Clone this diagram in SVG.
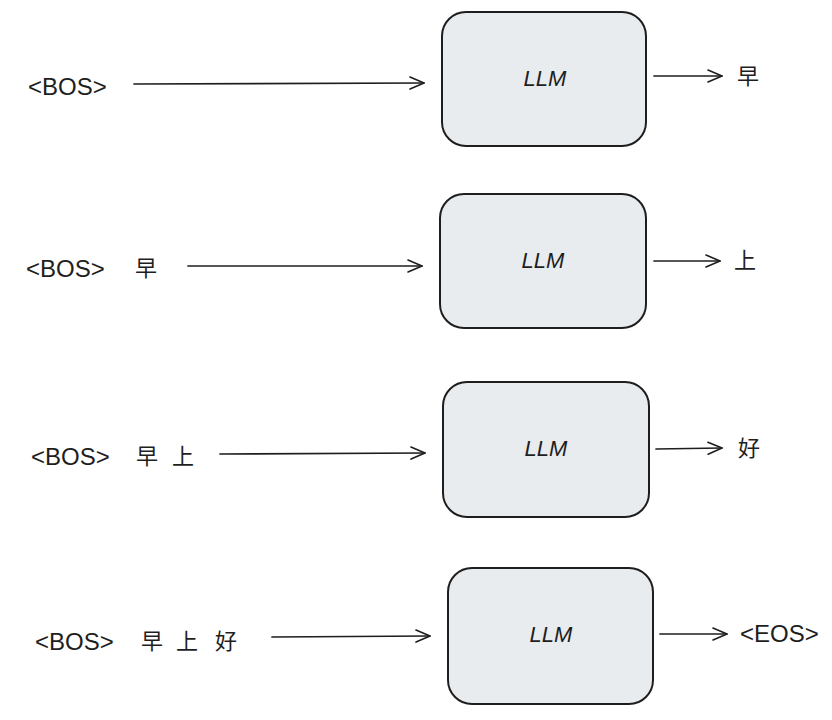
<svg xmlns="http://www.w3.org/2000/svg" width="832" height="720" viewBox="0 0 832 720">
  <defs>
    <marker id="arrow" viewBox="0 0 20 20" refX="18" refY="10" markerWidth="20" markerHeight="20" markerUnits="userSpaceOnUse" orient="auto">
      <path d="M4,4 L18,10 L4,16" fill="none" stroke="#1e1e1e" stroke-width="1.6" stroke-linecap="round" stroke-linejoin="round"/>
    </marker>
  </defs>
  <style>
    .box { fill: #e9ecef; stroke: #1e1e1e; stroke-width: 2; }
    .lbl { font-family: "Liberation Sans", "Noto Sans CJK SC", sans-serif; font-size: 24px; fill: #1e1e1e; }
    .cjk { font-family: "Noto Sans CJK SC", sans-serif; font-size: 22px; fill: #1e1e1e; }
    .llm { font-family: "Liberation Sans", sans-serif; font-size: 22px; font-style: italic; fill: #1e1e1e; text-anchor: middle; }
    .edge { stroke: #1e1e1e; stroke-width: 1.7; fill: none; stroke-linecap: round; marker-end: url(#arrow); }
  </style>
  <rect width="832" height="720" fill="#ffffff"/>

  <!-- step 1 -->
  <g id="llm1">
    <rect class="box" x="442" y="12" width="204" height="134" rx="24"/>
    <text class="llm" x="545" y="86">LLM</text>
  </g>
  <g id="in1"><text class="lbl" x="28" y="95">&lt;BOS&gt;</text></g>
  <g id="out1"><text class="cjk" x="737" y="84">早</text></g>

  <!-- step 2 -->
  <g id="llm2">
    <rect class="box" x="440" y="194" width="206" height="134" rx="24"/>
    <text class="llm" x="543" y="268">LLM</text>
  </g>
  <g id="in2"><text class="lbl" x="26" y="277">&lt;BOS&gt;<tspan class="cjk" x="135" y="276">早</tspan></text></g>
  <g id="out2"><text class="cjk" x="734" y="268">上</text></g>

  <!-- step 3 -->
  <g id="llm3">
    <rect class="box" x="443" y="382" width="206" height="135" rx="24"/>
    <text class="llm" x="546" y="456">LLM</text>
  </g>
  <g id="in3"><text class="lbl" x="31" y="465">&lt;BOS&gt;<tspan class="cjk" x="136" y="464">早</tspan><tspan class="cjk" x="172" y="464">上</tspan></text></g>
  <g id="out3"><text class="cjk" x="738" y="456">好</text></g>

  <!-- step 4 -->
  <g id="llm4">
    <rect class="box" x="448" y="568" width="205" height="136" rx="24"/>
    <text class="llm" x="551" y="642">LLM</text>
  </g>
  <g id="in4"><text class="lbl" x="35" y="650">&lt;BOS&gt;<tspan class="cjk" x="141" y="649">早</tspan><tspan class="cjk" x="176" y="649">上</tspan><tspan class="cjk" x="215" y="649">好</tspan></text></g>
  <g id="out4"><text class="lbl" x="740" y="642">&lt;EOS&gt;</text></g>

  <g id="connectors">
    <line class="edge" x1="134" y1="84" x2="424" y2="83"/>
    <line class="edge" x1="654" y1="76" x2="722" y2="76"/>
    <line class="edge" x1="188" y1="266" x2="422" y2="266"/>
    <line class="edge" x1="654" y1="261" x2="720" y2="261"/>
    <line class="edge" x1="220" y1="454" x2="425" y2="453"/>
    <line class="edge" x1="656" y1="449" x2="722" y2="448"/>
    <line class="edge" x1="272" y1="637" x2="430" y2="636"/>
    <line class="edge" x1="660" y1="634" x2="727" y2="634"/>
  </g>
</svg>
